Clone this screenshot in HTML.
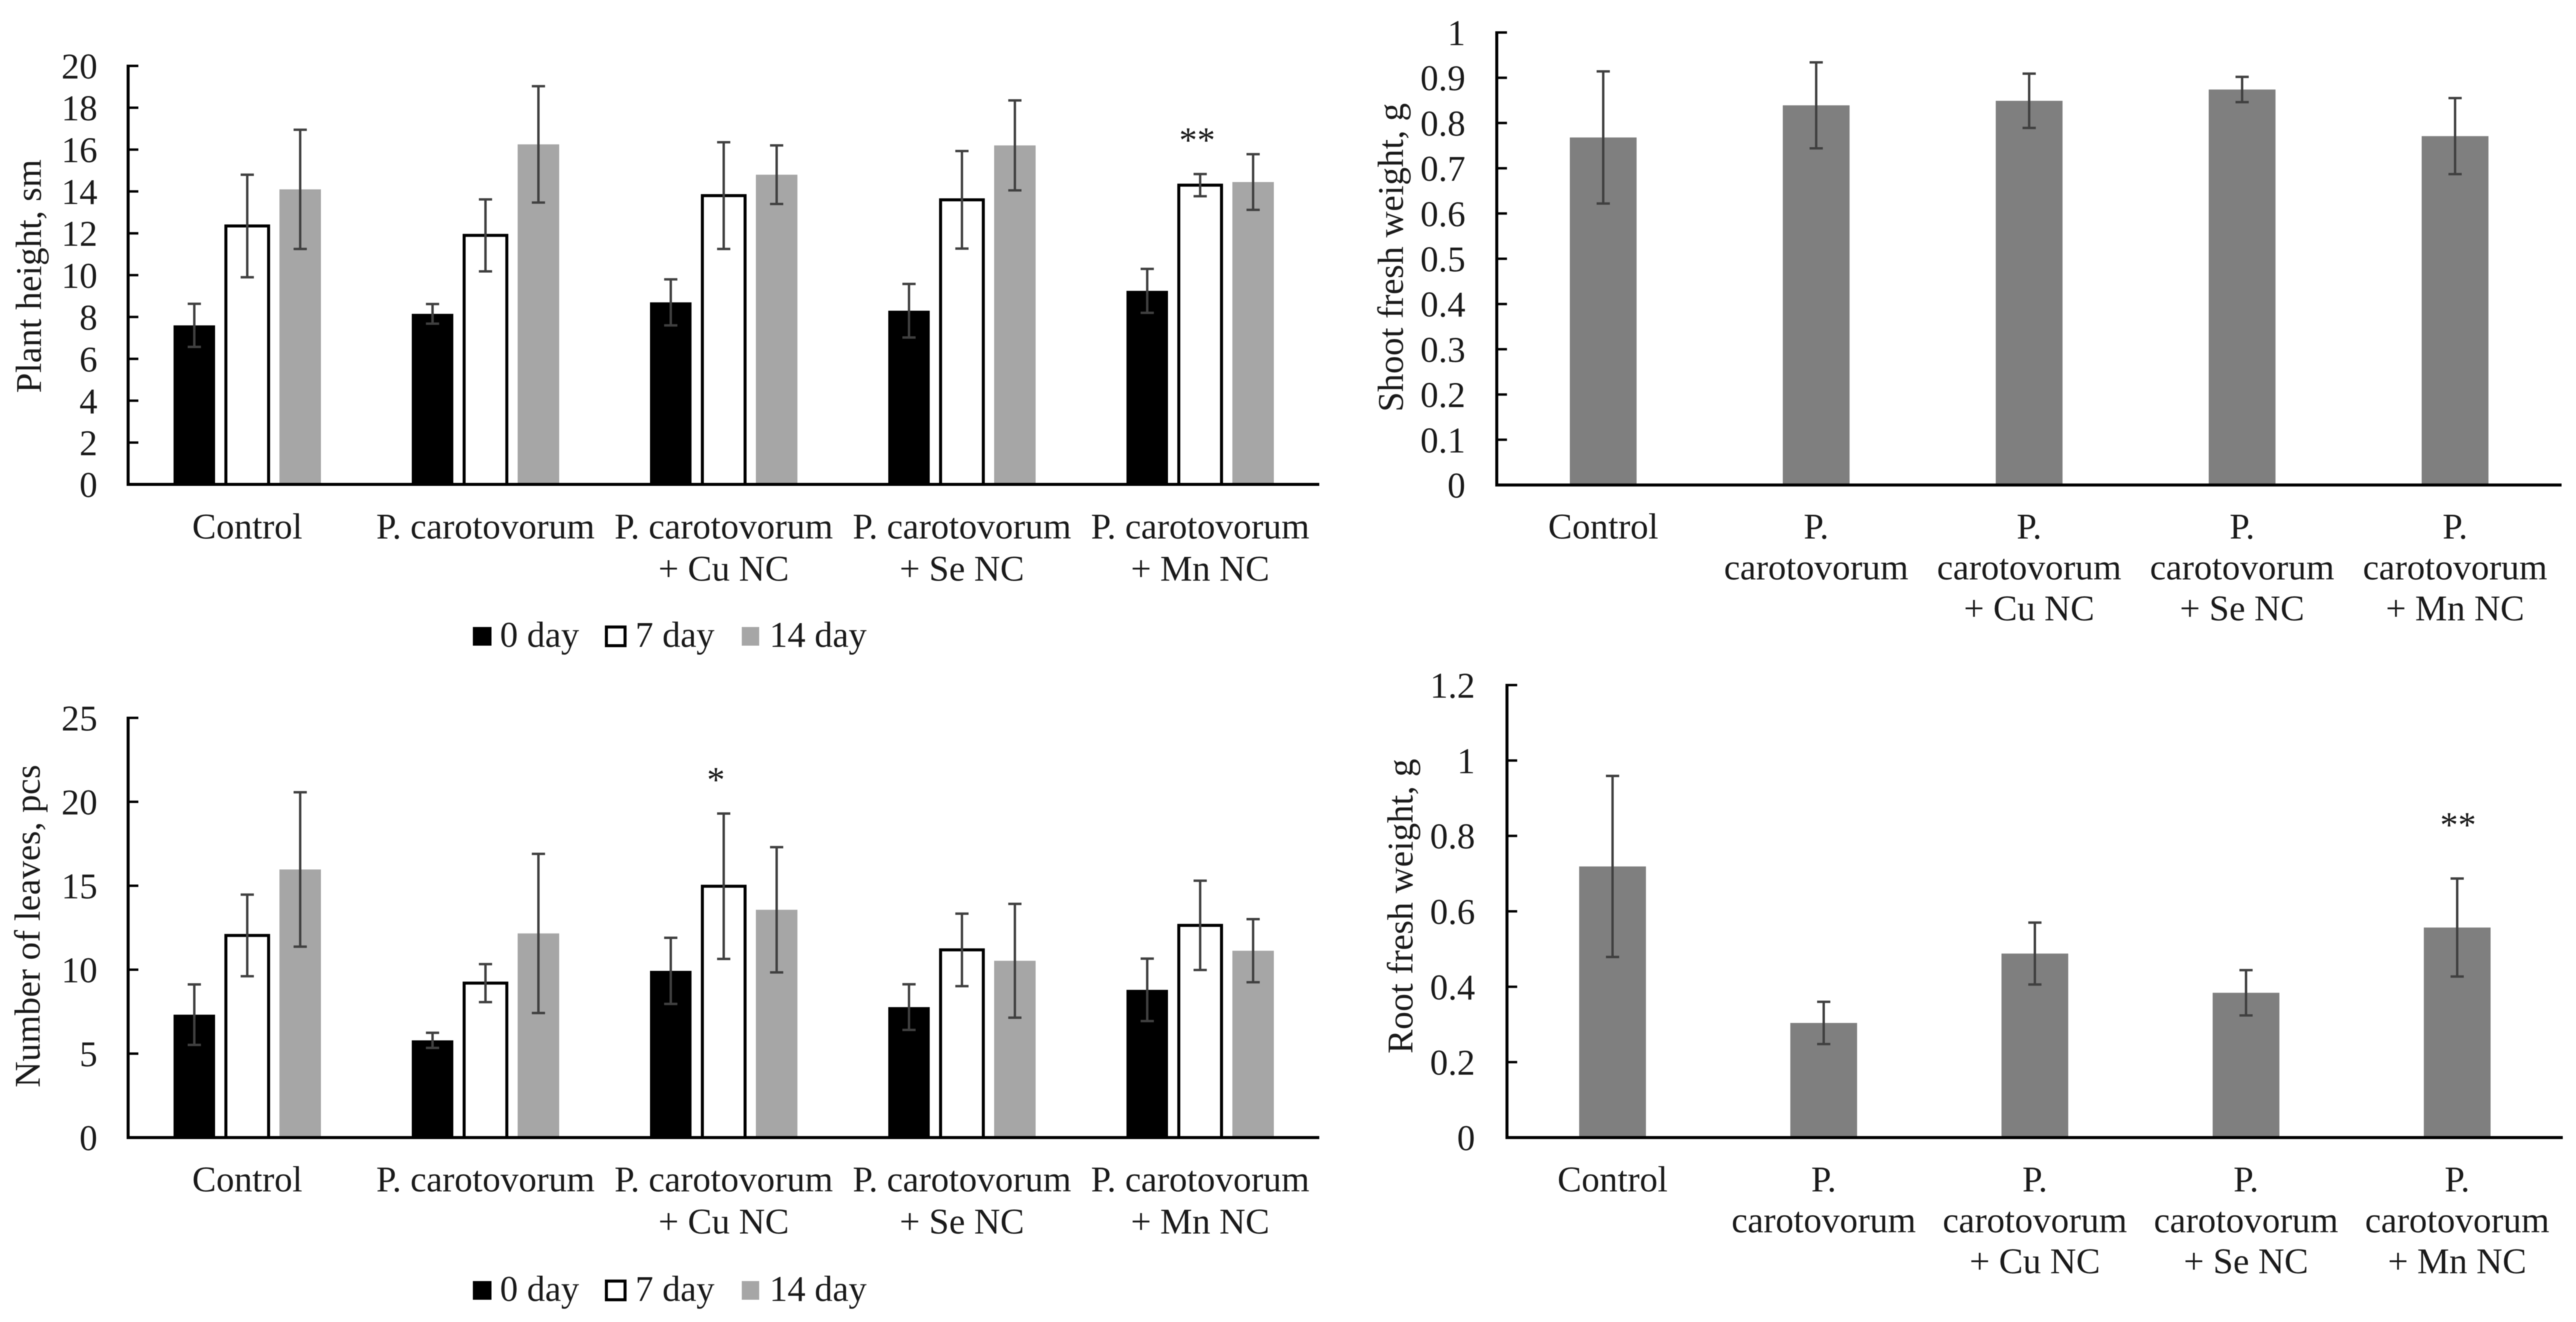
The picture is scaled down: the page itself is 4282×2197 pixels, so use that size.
<!DOCTYPE html>
<html lang="en">
<head>
<meta charset="utf-8">
<title>Plant growth charts</title>
<style>
html,body{margin:0;padding:0;background:#fff;width:4282px;height:2197px;overflow:hidden}
svg{display:block;filter:blur(0.9px)}
text{font-family:"Liberation Serif",serif;font-size:60px;fill:#1a1a1a}
</style>
</head>
<body>
<svg id="figure" xmlns="http://www.w3.org/2000/svg" width="4282" height="2197" viewBox="0 0 4282 2197">
<rect width="4282" height="2197" fill="#ffffff"/>
</svg>
<script>
const categoriesOneLine = [["Control"],["P. carotovorum"],["P. carotovorum","+ Cu NC"],["P. carotovorum","+ Se NC"],["P. carotovorum","+ Mn NC"]];
const categoriesWrapped = [["Control"],["P.","carotovorum"],["P.","carotovorum","+ Cu NC"],["P.","carotovorum","+ Se NC"],["P.","carotovorum","+ Mn NC"]];
const seriesNames = ["0 day","7 day","14 day"];

const heightTicks = [0,2,4,6,8,10,12,14,16,18,20];
const height0Day = [7.6,8.15,8.7,8.3,9.25];
const height0DayErr = [1.03,0.47,1.1,1.28,1.05];
const height7Day = [12.35,11.9,13.8,13.6,14.3];
const height7DayErr = [2.45,1.72,2.55,2.33,0.53];
const height14Day = [14.1,16.25,14.8,16.2,14.45];
const height14DayErr = [2.85,2.78,1.4,2.15,1.33];

const leavesTicks = [0,5,10,15,20,25];
const leaves0Day = [7.32,5.79,9.93,7.77,8.8];
const leaves0DayErr = [1.8,0.45,1.97,1.36,1.86];
const leaves7Day = [12.04,9.2,14.97,11.18,12.64];
const leaves7DayErr = [2.43,1.13,4.33,2.16,2.66];
const leaves14Day = [15.97,12.16,13.57,10.53,11.13];
const leaves14DayErr = [4.6,4.74,3.73,3.39,1.88];

const shootTicks = ["0","0.1","0.2","0.3","0.4","0.5","0.6","0.7","0.8","0.9","1"];
const shootWeight = [0.768,0.839,0.849,0.874,0.771];
const shootErr = [0.146,0.095,0.06,0.028,0.084];

const rootTicks = ["0","0.2","0.4","0.6","0.8","1","1.2"];
const rootWeight = [0.719,0.304,0.488,0.384,0.557];
const rootErr = [0.24,0.056,0.082,0.06,0.13];

const SVG_NS = "http://www.w3.org/2000/svg";
const figure = document.getElementById("figure");

function make(tag, attrs, parent) {
  const node = document.createElementNS(SVG_NS, tag);
  for (const key in attrs) node.setAttribute(key, attrs[key]);
  parent.appendChild(node);
  return node;
}

function drawErrorBar(group, cx, value, err, yScale, name) {
  const e = make("g", {stroke:"#404040","stroke-width":4,fill:"none"}, group);
  
  
  const hi = yScale(value + err);
  const lo = yScale(value - err);
  make("line", {x1:cx,x2:cx,y1:hi,y2:lo}, e);
  make("line", {x1:cx-11,x2:cx+11,y1:hi,y2:hi}, e);
  make("line", {x1:cx-11,x2:cx+11,y1:lo,y2:lo}, e);
}

function drawAxes(cfg, panel, yScale) {
  const axes = make("g", {stroke:"#000","stroke-width":5,fill:"none"}, panel);
  
  
  make("line", {x1:cfg.x0,x2:cfg.x0,y1:yScale(cfg.max)-2,y2:cfg.y0+2.5}, axes);
  make("line", {x1:cfg.x0-2.5,x2:cfg.x0+cfg.band*5,y1:cfg.y0,y2:cfg.y0}, axes);
  cfg.ticks.forEach(function (t) {
    const y = yScale(Number(t));
    make("line", {x1:cfg.x0,x2:cfg.x0+17,y1:y,y2:y,"stroke-width":4}, axes);
    const label = make("text", {x:cfg.tickRight,y:y+21,"text-anchor":"end"}, panel);
    
    
    label.textContent = String(t);
  });
}

function drawLabels(cfg, panel, xCenter) {
  cfg.categories.forEach(function (lines, i) {
    const label = make("text", {"text-anchor":"middle",y:cfg.labelBase}, panel);
    
    
    lines.forEach(function (line, j) {
      const span = make("tspan", {x:xCenter(i),y:cfg.labelBase+j*cfg.labelStep}, label);
      span.textContent = line;
    });
  });
  const title = make("text", {"text-anchor":"middle",transform:"translate("+cfg.titleX+","+cfg.titleY+") rotate(-90)"}, panel);
  
  
  title.textContent = cfg.title;
}

function drawMarks(cfg, panel, yScale, xCenter) {
  (cfg.stars || []).forEach(function (s) {
    const star = make("text", {x:s.x,y:s.y,"text-anchor":"middle"}, panel);
    
    
    star.textContent = s.text;
  });
}

function drawGrouped(cfg) {
  const panel = make("g", {}, figure);
  
  
  const yScale = function (v) { return cfg.y0 - (v / cfg.max) * (cfg.y0 - cfg.top); };
  const xCenter = function (i) { return cfg.x0 + cfg.band * (i + 0.5); };
  const fills = ["#000000","#ffffff","#a6a6a6"];
  const seriesKey = ["0-day","7-day","14-day"];
  cfg.series.forEach(function (values, s) {
    values.forEach(function (v, i) {
      const cx = xCenter(i) + (s - 1) * 88;
      const attrs = {x:cx-34.5,y:yScale(v),width:69,height:cfg.y0-yScale(v),fill:fills[s]};
      if (s === 1) { attrs.x = cx-35.5; attrs.width = 71; attrs.stroke = "#000"; attrs["stroke-width"] = 5; }
      const bar = make("rect", attrs, panel);
      
      
    });
  });
  cfg.series.forEach(function (values, s) {
    values.forEach(function (v, i) {
      const cx = xCenter(i) + (s - 1) * 88;
      drawErrorBar(panel, cx, v, cfg.errors[s][i], yScale, 'error-bar-' + seriesKey[s]);
    });
  });
  drawAxes(cfg, panel, yScale);
  drawLabels(cfg, panel, xCenter);
  drawMarks(cfg, panel, yScale, xCenter);

  const legend = make("g", {}, panel);
  
  
  const swatchX = [786,1008,1233];
  const textX = [831,1056,1279];
  seriesNames.forEach(function (n, s) {
    const attrs = {x:swatchX[s],y:cfg.legendBase-33,width:s===2?29:31,height:31,fill:fills[s]};
    if (s === 1) { attrs.stroke = "#000"; attrs["stroke-width"] = 5; }
    const swatch = make("rect", attrs, legend);
    
    
    const text = make("text", {x:textX[s],y:cfg.legendBase}, legend);
    
    
    text.textContent = n;
  });
}

function drawSingle(cfg) {
  const panel = make("g", {}, figure);
  
  
  const yScale = function (v) { return cfg.y0 - (v / cfg.max) * (cfg.y0 - cfg.top); };
  const xCenter = function (i) { return cfg.x0 + cfg.band * (i + 0.5); };
  cfg.values.forEach(function (v, i) {
    const bar = make("rect", {x:xCenter(i)-55.5,y:yScale(v),width:111,height:cfg.y0-yScale(v),fill:"#7f7f7f"}, panel);
    
    
  });
  cfg.values.forEach(function (v, i) {
    drawErrorBar(panel, xCenter(i), v, cfg.errors[i], yScale, 'error-bar');
  });
  drawAxes(cfg, panel, yScale);
  drawLabels(cfg, panel, xCenter);
  drawMarks(cfg, panel, yScale, xCenter);
}

drawGrouped({
  name:"plant-height-chart", title:"Plant height, sm", categories:categoriesOneLine,
  series:[height0Day,height7Day,height14Day], errors:[height0DayErr,height7DayErr,height14DayErr],
  ticks:heightTicks, max:20, x0:213, band:396, y0:805, top:109.5, tickRight:162,
  labelBase:895, labelStep:70, titleX:68, titleY:459, legendBase:1075,
  stars:[{text:"**",x:1990,y:253}]
});
drawGrouped({
  name:"leaves-chart", title:"Number of leaves, pcs", categories:categoriesOneLine,
  series:[leaves0Day,leaves7Day,leaves14Day], errors:[leaves0DayErr,leaves7DayErr,leaves14DayErr],
  ticks:leavesTicks, max:25, x0:213, band:396, y0:1890.5, top:1193, tickRight:162,
  labelBase:1980, labelStep:70, titleX:66, titleY:1539, legendBase:2162,
  stars:[{text:"*",x:1190,y:1316}]
});
drawSingle({
  name:"shoot-weight-chart", title:"Shoot fresh weight, g", categories:categoriesWrapped,
  values:shootWeight, errors:shootErr,
  ticks:shootTicks, max:1, x0:2488, band:354, y0:806, top:54, tickRight:2436,
  labelBase:895, labelStep:68, titleX:2332, titleY:428
});
drawSingle({
  name:"root-weight-chart", title:"Root fresh weight, g", categories:categoriesWrapped,
  values:rootWeight, errors:rootErr,
  ticks:rootTicks, max:1.2, x0:2505, band:351, y0:1890.5, top:1138.5, tickRight:2452,
  labelBase:1980, labelStep:68, titleX:2348, titleY:1506,
  stars:[{text:"**",x:4086,y:1391}]
});
</script>
</body>
</html>
